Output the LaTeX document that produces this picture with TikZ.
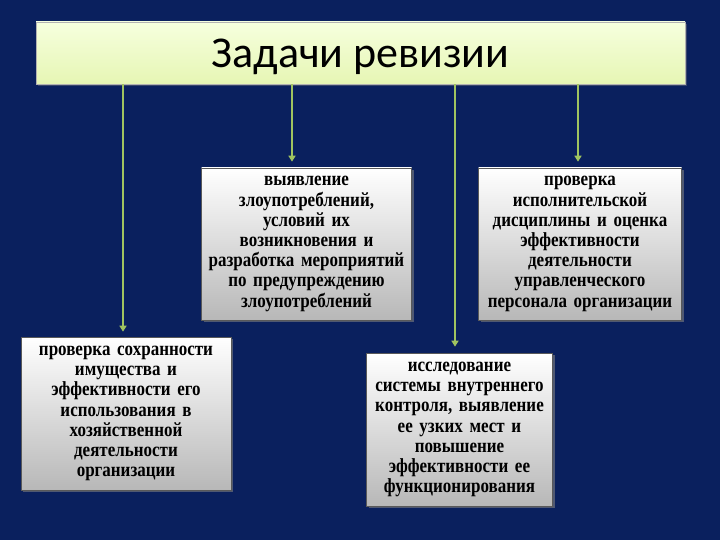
\documentclass[tikz,border=0pt]{standalone}
\usepackage{fontspec}
\setmainfont{Liberation Serif}
\newfontfamily\boxfont[FakeStretch = 0.85]{Liberation Serif}
\newfontfamily\titlefont{Carlito}
\usetikzlibrary{shadows,arrows.meta}
\definecolor{slidebg}{RGB}{10,32,94}
\definecolor{linegreen}{RGB}{160,196,96}
\definecolor{titletop}{RGB}{246,255,222}
\definecolor{titlebot}{RGB}{230,246,180}
\tikzset{
    taskbox/.style = {draw = gray!70!black, line width = 0.6pt, top color = white, bottom color = black!28,
        align = center, inner sep = 3pt, font = \boxfont\fontsize{20}{20.2}\selectfont\bfseries,
        drop shadow = {shadow xshift = 2pt, shadow yshift = -2pt, opacity = 0.6}},
    link/.style = {draw = linegreen, line width = 2pt, -{Triangle[length = 6pt, width = 7pt]}}
}
\begin{document}
\begin{tikzpicture}[x = 1pt, y = -1pt]
        \fill[slidebg] (0,0) rectangle (720,540);
        \useasboundingbox (0,0) rectangle (720,540);
        \node[draw = gray!60, top color = titletop, bottom color = titlebot, minimum width = 649pt, minimum height = 62pt,
            text height = 36pt, text depth = 6pt,
            drop shadow = {shadow xshift = 2pt, shadow yshift = -2pt, opacity = 0.4}] (title) at (360.5,53)
            {\titlefont\fontsize{44}{48}\selectfont Задачи ревизии};
        \node[taskbox, minimum width = 207pt, minimum height = 152pt, text width = 204pt] (abuse) at (306.5,244)
            {выявление\\злоупотреблений,\\условий их\\возникновения и\\разработка мероприятий\\по предупреждению\\злоупотреблений};
        \node[taskbox, minimum width = 200pt, minimum height = 152pt, text width = 197pt] (staff) at (580,244)
            {проверка\\исполнительской\\дисциплины и оценка\\эффективности\\деятельности\\управленческого\\персонала организации};
        \node[taskbox, minimum width = 208pt, minimum height = 153pt, text width = 204pt] (assets) at (126,413.5)
            {проверка сохранности\\имущества и\\эффективности его\\использования в\\хозяйственной\\деятельности\\организации};
        \node[taskbox, minimum width = 183pt, minimum height = 153pt, text width = 180pt] (control) at (459.5,429.5)
            {исследование\\системы внутреннего\\контроля, выявление\\ее узких мест и\\повышение\\эффективности ее\\функционирования};
        \draw[link] ([xshift = -3pt]assets.north |- title.south) -- ([xshift = -3pt, yshift = 5pt]assets.north);
        \draw[link] ([xshift = -14.5pt]abuse.north |- title.south) -- ([xshift = -14.5pt, yshift = 6pt]abuse.north);
        \draw[link] ([xshift = -4.5pt]control.north |- title.south) -- ([xshift = -4.5pt, yshift = 6pt]control.north);
        \draw[link] ([xshift = -2pt]staff.north |- title.south) -- ([xshift = -2pt, yshift = 6pt]staff.north);
    \end{tikzpicture}
\end{document}
